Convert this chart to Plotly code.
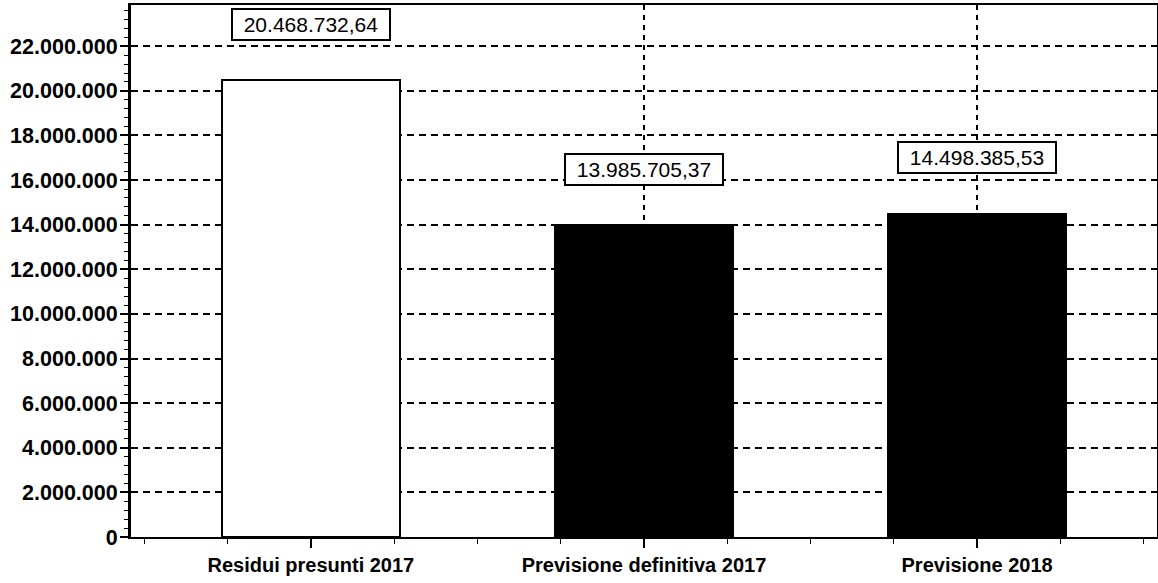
import plotly.graph_objects as go

categories = ["Residui presunti 2017", "Previsione definitiva 2017", "Previsione 2018"]
values = [20468732.64, 13985705.37, 14498385.53]
value_labels = ["20.468.732,64", "13.985.705,37", "14.498.385,53"]
bar_colors = ["white", "black", "black"]
y_ticks = list(range(0, 22000001, 2000000))
y_tick_labels = ["{:,}".format(v).replace(",", ".") for v in y_ticks]

x_pos = list(range(len(categories)))

fig = go.Figure()
fig.add_trace(go.Bar(
    x=x_pos, y=values, width=0.535,
    marker=dict(color=bar_colors, line=dict(color="black", width=2)),
    hoverinfo="skip", showlegend=False,
))
# invisible trace for secondary x axis (vertical grid at categories 1 and 2)
fig.add_trace(go.Scatter(x=x_pos, y=values, xaxis="x2", mode="markers",
                         marker=dict(opacity=0), hoverinfo="skip", showlegend=False))

for xi, v, lab in zip(x_pos, values, value_labels):
    fig.add_annotation(
        x=xi, y=v, text=lab, showarrow=False, yanchor="middle", yshift=56,
        font=dict(family="Liberation Sans, Arial", size=21, color="black"),
        bgcolor="white", bordercolor="black", borderwidth=2, borderpad=1,
        width=154, height=27,
    )

fig.update_layout(
    width=1158, height=583,
    margin=dict(l=131, r=1, t=5, b=46, autoexpand=False),
    paper_bgcolor="white", plot_bgcolor="white",
    font=dict(family="Liberation Sans, Arial", color="black"),
    xaxis=dict(
        range=[-0.54, 2.54], automargin=False,
        tickmode="array", tickvals=x_pos, ticktext=categories,
        tickfont=dict(size=20, weight="bold"),
        ticks="outside", ticklen=9, tickwidth=2, tickcolor="black",
        showgrid=False, zeroline=False,
        showline=True, linecolor="black", linewidth=2, mirror=True,
        minor=dict(dtick=0.25, tick0=0, ticks="outside", ticklen=5, tickwidth=1, tickcolor="black"),
    ),
    xaxis2=dict(
        range=[-0.54, 2.54], overlaying="x", side="bottom", automargin=False,
        tickmode="array", tickvals=[1, 2], showticklabels=False, ticks="",
        showgrid=True, gridcolor="black", gridwidth=2, griddash="5px,5px",
        zeroline=False, showline=False, layer="below traces",
    ),
    yaxis=dict(
        range=[0, 23850000], automargin=False,
        tickmode="array", tickvals=y_ticks, ticktext=y_tick_labels,
        tickfont=dict(size=21.5, weight="bold"),
        ticks="outside", ticklen=8, tickwidth=2, tickcolor="black",
        showgrid=True, gridcolor="black", gridwidth=2, griddash="7px,5px",
        zeroline=False,
        showline=True, linecolor="black", linewidth=3, mirror=True,
        minor=dict(dtick=400000, tick0=0, ticks="outside", ticklen=4, tickwidth=1, tickcolor="black"),
        ticklabelstandoff=-2,
    ),
    bargap=0,
)

fig.write_html("out.html", config={"displayModeBar": False},
               post_script="document.body.style.margin='0px';")
